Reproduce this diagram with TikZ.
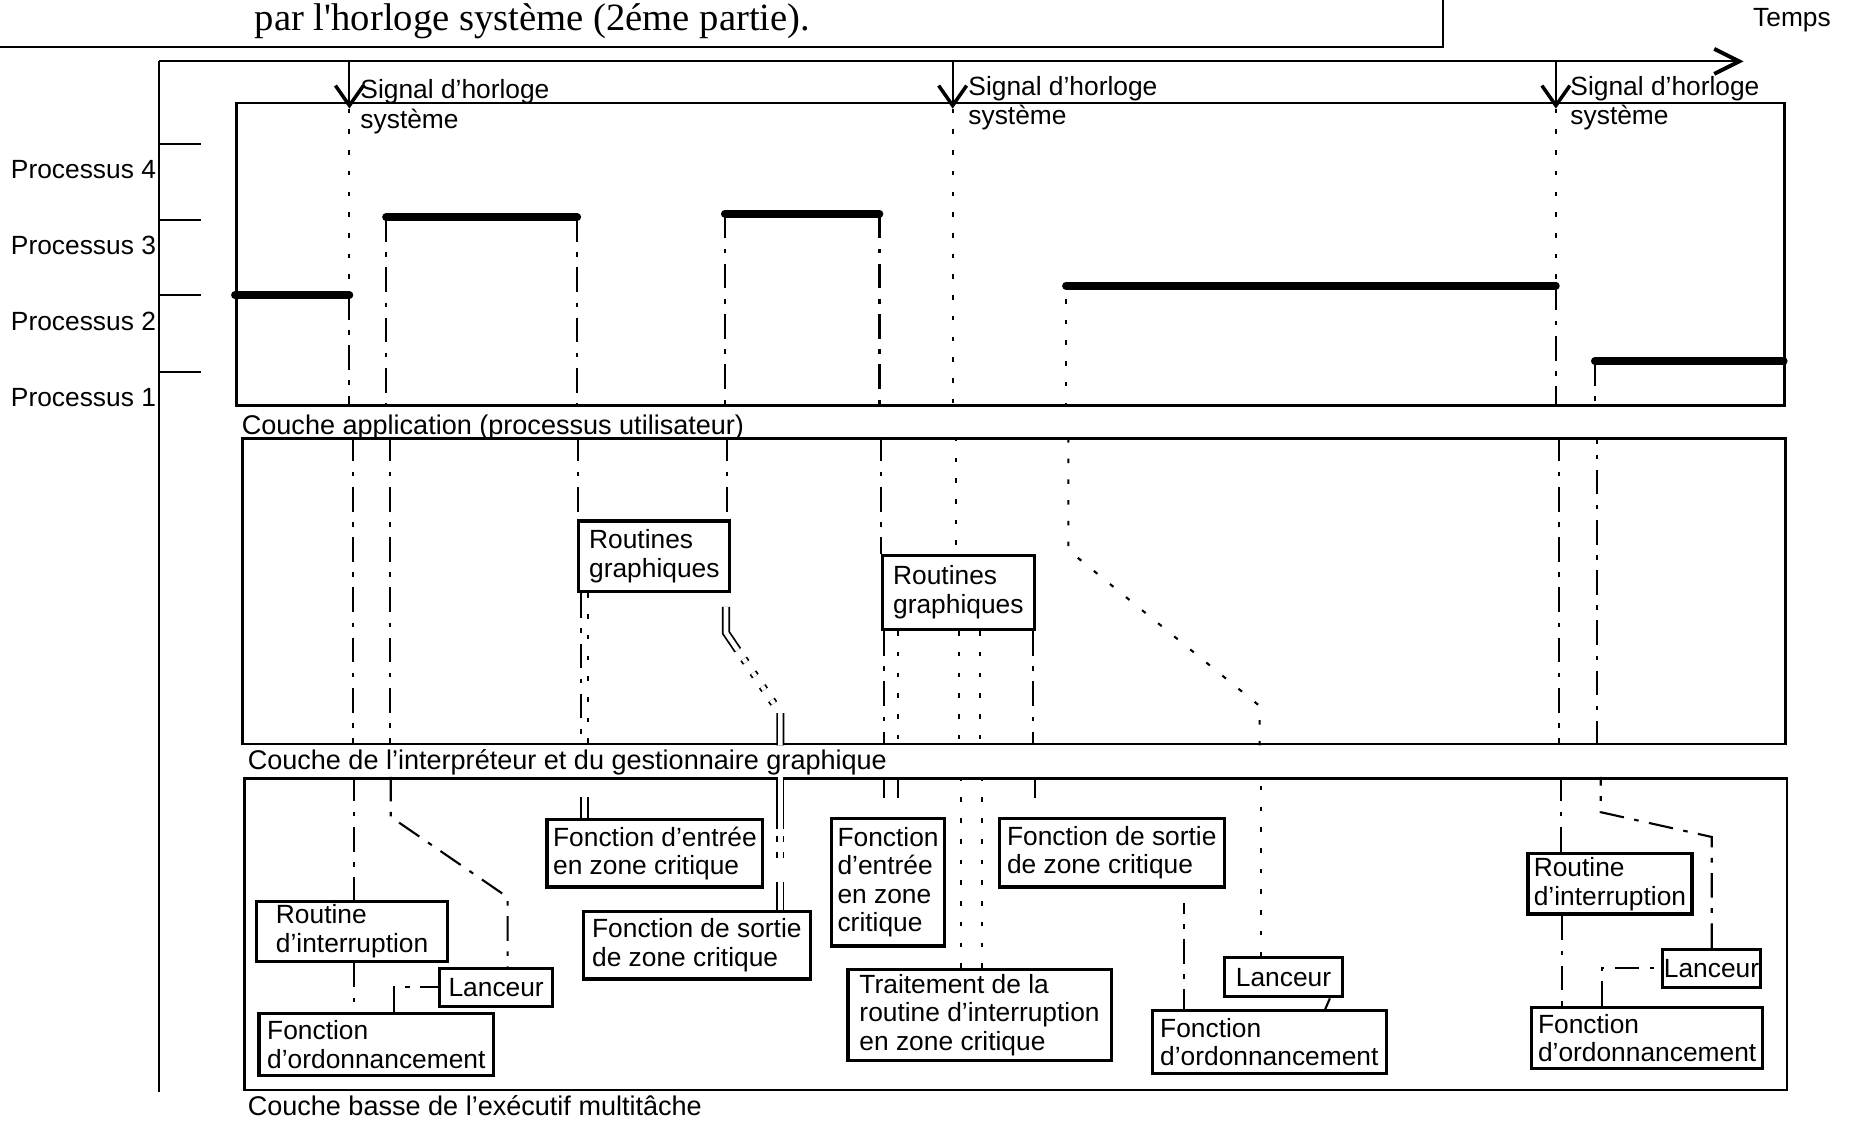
\documentclass[tikz,border=0pt]{standalone}
\usepackage{fontspec}
\setmainfont{Liberation Sans}
\newfontfamily\titrefont{Liberation Serif}
\usetikzlibrary{arrows.meta,positioning}

\begin{document}
\begin{tikzpicture}[
    x=0.011805cm, y=-0.011805cm,
    font=\fontsize{7.5}{8.1}\selectfont,
    line width=0.6pt,
    couche/.style={draw, line width=0.8pt, anchor=north west, inner sep=0pt},
    boite/.style={draw, line width=0.9pt, anchor=north west, align=left, inner xsep=1.5pt, inner ysep=1pt},
    sig/.style={anchor=north west, align=left, inner sep=0.5pt, font=\fontsize{7.5}{8.4}\selectfont},
    etiq/.style={anchor=west, inner sep=0pt, font=\fontsize{7.7}{9}\selectfont},
    proc/.style={line width=2.2pt, line cap=round},
    tirets/.style={dash pattern=on 1.3pt off 4.6pt},
    mixte/.style={dash pattern=on 7pt off 3pt on 1.3pt off 3pt},
    court/.style={dash pattern=on 6pt off 20pt},
    dbl/.style={double, double distance=1.3pt, line width=0.5pt},
    horloge/.style={-{Straight Barb[length=2mm,width=2.8mm,line width=1pt]}}
]
    \useasboundingbox (0,0) rectangle (1568,951);

    % titre (cadre coupe)
    \node[anchor=west, inner sep=0pt, font=\titrefont\fontsize{11}{13}\selectfont] (titre) at (215,18) {par l'horloge système (2éme partie).};
    \draw (0,40) -- (1222,40) -- (1222,0);
    \node (temps) at (1518,17) {Temps};

    % axes
    \coordinate (t0) at (135,52);
    \coordinate (tfin) at (1477,52);
    \draw[-{Straight Barb[length=2.5mm,width=2.5mm,line width=1.1pt]}] (t0) -- (tfin);
    \draw (t0) -- (135,925);
    \foreach \n/\y in {4/122,3/186,2/250,1/315}{
        \draw (135,\y) -- (170,\y);
        \node[anchor=east, inner sep=0pt] (proc\n) at (133,\y+22) {Processus \n};
    }

    % signaux d'horloge
    \foreach \i/\x in {1/296,2/807,3/1318}
        \draw[horloge] (\x,52) -- (\x,92) coordinate (h\i);
    \node[sig] (sig1) at (303,65) {Signal d'horloge\\système};
    \node[sig] (sig2) at (818,62) {Signal d'horloge\\système};
    \node[sig] (sig3) at (1328,62) {Signal d'horloge\\système};

    % couches
    \node[couche, minimum width=15.49cm, minimum height=3.03cm] (app) at (199,86) {};
    \node[etiq] (lapp) at (204,362) {Couche application (processus utilisateur)};
    \node[couche, minimum width=15.44cm, minimum height=3.06cm] (mid) at (204,370) {};
    \node[etiq] (lmid) at (209,646) {Couche de l'interpréteur et du gestionnaire graphique};
    \node[couche, minimum width=15.43cm, minimum height=3.12cm] (bas) at (206,658) {};
    \node[etiq] (lbas) at (209,937) {Couche basse de l'exécutif multitâche};

    % processus actifs
    \draw[proc] (199,250) coordinate (p2ad) -- (296,250) coordinate (p2af);
    \draw[proc] (327,184) coordinate (p3ad) -- (489,184) coordinate (p3af);
    \draw[proc] (614,181) coordinate (p3bd) -- (745,181) coordinate (p3bf);
    \draw[proc] (903,242) coordinate (p2bd) -- (1318,242) coordinate (p2bf);
    \draw[proc] (1351,306) coordinate (p1d) -- (1511,306) coordinate (p1f);

    % boites
    \node[boite, minimum width=1.511cm, minimum height=0.708cm] (rg1) at (489,440) {Routines\\graphiques};
    \node[boite, minimum width=1.523cm, minimum height=0.744cm] (rg2) at (746,469) {Routines\\graphiques};
    \node[boite, minimum width=2.160cm, minimum height=0.673cm] (ent1) at (462,693) {Fonction d'entrée\\en zone critique};
    \node[boite, minimum width=2.267cm, minimum height=0.673cm] (sor1) at (493,771) {Fonction de sortie\\de zone critique};
    \node[boite, minimum width=1.133cm, minimum height=1.275cm] (ent2) at (703,692) {Fonction\\d'entrée\\en zone\\critique};
    \node[boite, minimum width=2.255cm, minimum height=0.685cm] (sor2) at (845,692) {Fonction de sortie\\de zone critique};
    \node[boite, minimum width=2.633cm, minimum height=0.909cm] (trait) at (717,820) {Traitement de la\\routine d'interruption\\en zone critique};
    \node[boite, minimum width=1.912cm, minimum height=0.531cm] (rint1) at (216,762) {Routine\\d'interruption};
    \node[boite, minimum width=1.133cm, minimum height=0.378cm] (lan1) at (371,819) {Lanceur};
    \node[boite, minimum width=2.349cm, minimum height=0.626cm] (ord1) at (218,857) {Fonction\\d'ordonnancement};
    \node[boite, minimum width=1.180cm, minimum height=0.390cm] (lan2) at (1036,810) {Lanceur};
    \node[boite, minimum width=2.337cm, minimum height=0.626cm] (ord2) at (975,855) {Fonction\\d'ordonnancement};
    \node[boite, minimum width=1.641cm, minimum height=0.602cm] (rint3) at (1293,722) {Routine\\d'interruption};
    \node[boite, minimum width=0.980cm, minimum height=0.378cm, inner xsep=0.2pt] (lan3) at (1407,803) {Lanceur};
    \node[boite, minimum width=2.314cm, minimum height=0.614cm] (ord3) at (1296,852) {Fonction\\d'ordonnancement};

    % 1er signal : interruption puis lancement du processus 3
    \draw[tirets] (h1) -- (p2af);
    \draw[mixte] (p2af) -- (p2af |- app.south);
    \draw[mixte] (299,0 |- mid.north) -- (299,0 |- mid.south);
    \draw[mixte] (300,0 |- bas.north) -- (300,0 |- rint1.north);
    \draw[mixte] (300,0 |- rint1.south) -- (300,0 |- ord1.north);
    \draw[mixte] (334,0 |- ord1.north) |- (lan1.west);
    \draw[mixte] (p3ad) -- (p3ad |- app.south);
    \draw[mixte] (330,0 |- mid.north) -- (330,0 |- mid.south);
    \draw[mixte] (331,0 |- bas.north) -- (331,692) -- (430,760) -- (430,0 |- lan1.north);

    % appel des routines graphiques
    \draw[mixte] (p3af) -- (p3af |- app.south);
    \draw[mixte] (490,0 |- mid.north) -- (490,0 |- rg1.north);
    \draw[mixte] (492,0 |- rg1.south) -- (492,0 |- mid.south);
    \draw[tirets] (498,0 |- rg1.south) -- (498,0 |- mid.south);
    \draw[court] (492,0 |- ent1.north) -- (492,0 |- bas.north);
    \draw[court] (498,0 |- ent1.north) -- (498,0 |- bas.north);
    \draw[dbl, dash pattern=on 13.4pt off 3pt on 1.2pt off 3.5pt on 1.2pt off 3.5pt on 1.2pt off 3.5pt on 1.2pt off 3.3pt on 10pt]
        (615,514) -- (615,536) -- (661,604) -- (661,0 |- mid.south);
    \draw[dbl, dash pattern=on 15pt off 2pt on 1.5pt off 3pt on 1.5pt off 7pt on 8pt]
        (661,0 |- bas.north) -- (661,0 |- sor1.north);
    \draw[mixte] (p3bd) -- (p3bd |- app.south);
    \draw[mixte] (616,0 |- mid.north) -- (616,0 |- rg1.north);

    \draw[mixte] (p3bf) -- (p3bf |- app.south);
    \draw[mixte] (746,0 |- mid.north) -- (rg2.north west);
    \draw[mixte] (749,0 |- rg2.south) -- (749,0 |- mid.south);
    \draw[tirets] (761,0 |- rg2.south) -- (761,0 |- mid.south);
    \draw[court] (749,0 |- bas.north) -- (749,0 |- ent2.north);
    \draw[court] (761,0 |- bas.north) -- (761,0 |- ent2.north);

    % 2eme signal : interruption en zone critique
    \draw[tirets] (h2) -- (h2 |- app.south);
    \draw[tirets] (810,0 |- mid.north) -- (810,0 |- rg2.north);
    \draw[tirets] (812,0 |- rg2.south) -- (812,0 |- mid.south);
    \draw[tirets] (830,0 |- rg2.south) -- (830,0 |- mid.south);
    \draw[tirets] (814,0 |- bas.north) -- (814,0 |- trait.north);
    \draw[tirets] (832,0 |- bas.north) -- (832,0 |- trait.north);
    \draw[mixte] (875,0 |- rg2.south) -- (875,0 |- mid.south);
    \draw[court] (877,0 |- bas.north) -- (877,0 |- sor2.north);
    \draw[mixte, dash phase=4pt] (1003,765) -- (1003,0 |- ord2.north);
    \draw ([shift={(-12,0)}]lan2.south east) -- ([shift={(-53,0)}]ord2.north east);
    \draw[tirets] (1068,0 |- lan2.north) -- (1068,0 |- bas.north);
    \draw[tirets] (1067,0 |- mid.south) -- (1067,598) -- (905,466) -- (905,0 |- mid.north);
    \draw[tirets] (p2bd |- app.south) -- (p2bd);

    % 3eme signal : lancement du processus 1
    \draw[tirets] (h3) -- (p2bf);
    \draw[mixte] (p2bf) -- (p2bf |- app.south);
    \draw[mixte] (1321,0 |- mid.north) -- (1321,0 |- mid.south);
    \draw[mixte] (1322,0 |- bas.north) -- (1322,0 |- rint3.north);
    \draw[mixte] (1323,0 |- rint3.south) -- (1323,0 |- ord3.north);
    \draw[mixte] (1357,0 |- ord3.north) |- (lan3.west);
    \draw[mixte] (1450,0 |- lan3.north) -- (1450,709) -- (1356,688) -- (1356,0 |- bas.north);
    \draw[mixte] (1353,0 |- mid.south) -- (1353,0 |- mid.north);
    \draw[mixte] (p1d) -- (p1d |- app.south);
\end{tikzpicture}
\end{document}
